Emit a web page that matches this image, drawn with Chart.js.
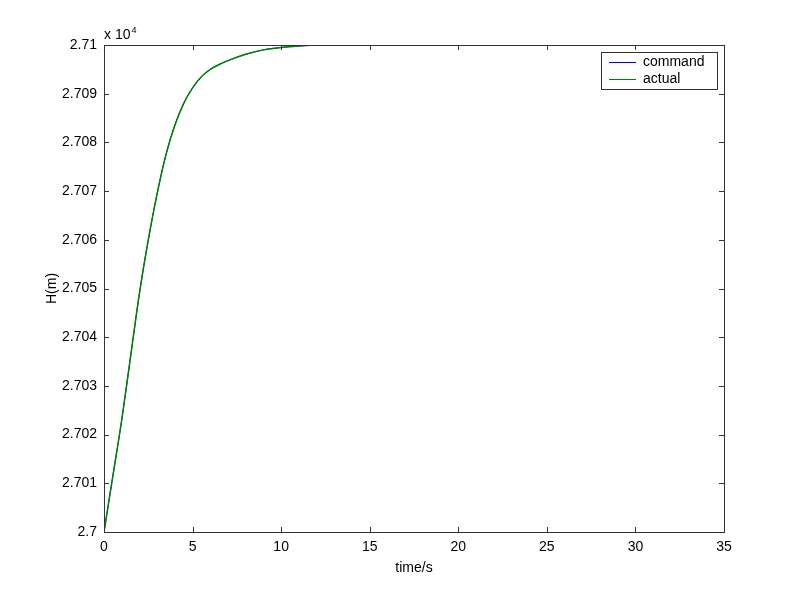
<!DOCTYPE html>
<html lang="en">
<head>
    <meta charset="UTF-8">
    <title>H(m) vs time</title>
    <script src="https://cdn.jsdelivr.net/npm/chart.js"></script>
    <style>
        body {
            margin: 0;
            background: #ffffff;
            overflow: hidden;
        }

        .container {
            width: 800px;
            height: 600px;
        }
    </style>
</head>
<body>
    <div class="container">
        <canvas id="heightChart" width="800" height="600"></canvas>
    </div>

    <script>
        // values
        const timeValues = [0, 0.5, 1, 1.5, 2, 2.5, 3, 3.5, 4, 4.5, 5, 5.5, 6, 6.5, 7, 8, 9, 10, 11, 12, 12.5];
        const actualValues = [27000, 27011.5, 27023, 27036, 27049, 27060, 27069.5, 27077.5, 27083.5, 27088,
            27091.2, 27093.5, 27095, 27096, 27096.8, 27098.1, 27099, 27099.5, 27099.8, 27100, 27100];
        const commandValues = [27000, 27011.5, 27023, 27036, 27049, 27060, 27069.5, 27077.5, 27083.5, 27088,
            27091.2, 27093.5, 27095, 27096, 27096.8, 27098.1, 27099, 27099.5, 27099.8, 27100, 27100];
        const seriesNames = ['command', 'actual'];
        const xTickLabels = ['0', '5', '10', '15', '20', '25', '30', '35'];
        const yTickLabels = ['2.7', '2.701', '2.702', '2.703', '2.704', '2.705', '2.706', '2.707', '2.708', '2.709', '2.71'];

        const FONT = '"Liberation Sans", Arial, sans-serif';
        const AXIS_COLOR = '#333333';

        function toPoints(values) {
            return timeValues.map((t, i) => ({ x: t, y: values[i] }));
        }

        // box, inward ticks, axis titles, exponent and legend, drawn like matlab
        const matlabAxes = {
            id: 'matlabAxes',
            afterDatasetsDraw(chart) {
                const ctx = chart.ctx;
                const area = chart.chartArea;
                const xs = chart.scales.x;
                const ys = chart.scales.y;
                const tickLen = 5;

                ctx.save();
                ctx.strokeStyle = AXIS_COLOR;
                ctx.lineWidth = 1;
                ctx.strokeRect(Math.round(area.left) + 0.5, Math.round(area.top) + 0.5,
                    Math.round(area.right - area.left), Math.round(area.bottom - area.top));

                ctx.beginPath();
                xs.ticks.forEach(t => {
                    const px = Math.round(xs.getPixelForValue(t.value)) + 0.5;
                    ctx.moveTo(px, area.bottom);
                    ctx.lineTo(px, area.bottom - tickLen);
                    ctx.moveTo(px, area.top);
                    ctx.lineTo(px, area.top + tickLen);
                });
                ys.ticks.forEach(t => {
                    const py = Math.round(ys.getPixelForValue(t.value)) + 0.5;
                    ctx.moveTo(area.left, py);
                    ctx.lineTo(area.left + tickLen, py);
                    ctx.moveTo(area.right, py);
                    ctx.lineTo(area.right - tickLen, py);
                });
                ctx.stroke();

                ctx.fillStyle = '#000';
                ctx.font = '14px ' + FONT;
                ctx.textAlign = 'center';
                ctx.textBaseline = 'middle';
                ctx.fillText('time/s', (area.left + area.right) / 2, 568);

                ctx.save();
                ctx.translate(52, (area.top + area.bottom) / 2);
                ctx.rotate(-Math.PI / 2);
                ctx.fillText('H(m)', 0, 0);
                ctx.restore();

                // x 10^4 above the top left corner
                ctx.textAlign = 'left';
                ctx.textBaseline = 'alphabetic';
                ctx.fillText('x 10', 104, 39);
                const w = ctx.measureText('x 10').width;
                ctx.font = '9px ' + FONT;
                ctx.fillText('4', 104 + w + 1, 33);

                // legend
                const lx = 601, ly = 52, lw = 116, lh = 37;
                ctx.fillStyle = '#fff';
                ctx.fillRect(lx, ly, lw, lh);
                ctx.strokeStyle = AXIS_COLOR;
                ctx.lineWidth = 1;
                ctx.strokeRect(lx + 0.5, ly + 0.5, lw, lh);
                ctx.font = '14px ' + FONT;
                ctx.textBaseline = 'middle';
                chart.data.datasets.forEach((ds, i) => {
                    const yy = ly + 10 + i * 17;
                    ctx.strokeStyle = ds.borderColor;
                    ctx.beginPath();
                    ctx.moveTo(609, yy + 0.5);
                    ctx.lineTo(636, yy + 0.5);
                    ctx.stroke();
                    ctx.fillStyle = '#000';
                    ctx.fillText(ds.label, 643, yy);
                });
                ctx.restore();
            }
        };

        const ctx = document.getElementById('heightChart').getContext('2d');
        const heightChart = new Chart(ctx, {
            type: 'line',
            data: {
                datasets: [{
                    label: seriesNames[0],
                    data: toPoints(commandValues),
                    borderColor: '#0000ff',
                    borderWidth: 1,
                    pointRadius: 0,
                    cubicInterpolationMode: 'monotone',
                    order: 2
                }, {
                    label: seriesNames[1],
                    data: toPoints(actualValues),
                    borderColor: '#008000',
                    borderWidth: 1.5,
                    pointRadius: 0,
                    cubicInterpolationMode: 'monotone',
                    order: 1
                }]
            },
            options: {
                responsive: false,
                animation: false,
                layout: {
                    padding: { top: 45, right: 76, left: 0, bottom: 0 }
                },
                scales: {
                    x: {
                        type: 'linear',
                        min: 0,
                        max: 35,
                        afterFit: scale => { scale.height = 68; },
                        border: { display: false },
                        grid: { display: false, drawTicks: false },
                        ticks: {
                            stepSize: 5,
                            padding: 7,
                            color: '#000',
                            maxRotation: 0,
                            font: { family: FONT, size: 14 },
                            callback: (v, i) => xTickLabels[i]
                        }
                    },
                    y: {
                        min: 27000,
                        max: 27100,
                        afterFit: scale => { scale.width = 104; },
                        border: { display: false },
                        grid: { display: false, drawTicks: false },
                        ticks: {
                            stepSize: 10,
                            padding: 7,
                            color: '#000',
                            font: { family: FONT, size: 14 },
                            callback: (v, i) => yTickLabels[i]
                        }
                    }
                },
                plugins: {
                    legend: { display: false },
                    tooltip: { enabled: false }
                }
            },
            plugins: [matlabAxes]
        });
    </script>
</body>
</html>
